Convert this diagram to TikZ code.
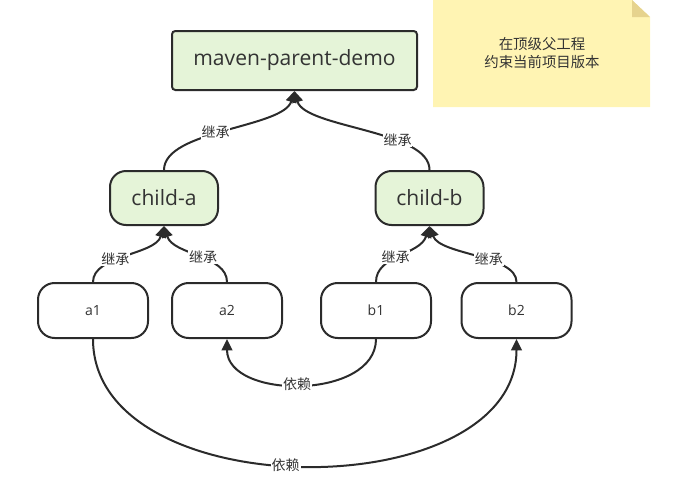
\documentclass[tikz,border=0pt]{standalone}
\usepackage{fontspec}
\setmainfont{Open Sans}
\newfontfamily\cjk{Noto Sans CJK SC}
\usetikzlibrary{arrows.meta}
\definecolor{strokec}{HTML}{2B2B2B}
\definecolor{textc}{HTML}{333333}
\definecolor{greenfill}{HTML}{E5F4D8}
\definecolor{notefill}{HTML}{FFF4B3}
\definecolor{notefold}{HTML}{E6D38E}
\tikzset{
  box/.style={draw=strokec, line width=1.5pt, text=textc, inner sep=0pt},
  parentbox/.style={box, fill=greenfill, rounded corners=2.5pt,
    minimum width={245*0.75pt}, minimum height={59*0.75pt},
    font=\fontsize{15.8}{18}\selectfont},
  childbox/.style={box, fill=greenfill, rounded corners=12pt,
    minimum width={108*0.75pt}, minimum height={54*0.75pt},
    font=\fontsize{15.8}{18}\selectfont},
  leafbox/.style={box, fill=white, rounded corners=12.5pt,
    minimum width={110*0.75pt}, minimum height={55*0.75pt},
    font=\fontsize{10.5}{12}\selectfont},
  conn/.style={draw=strokec, line width=1.5pt,
    -{Triangle[length=8.5pt,width=8pt]}},
  elabel/.style={fill=white, inner sep=0.6pt, text=textc,
    font=\cjk\fontsize{10.5}{12}\selectfont},
  notetext/.style={text=textc, align=center,
    font=\cjk\fontsize{10.8}{13}\selectfont}
}
\begin{document}
\begin{tikzpicture}[x=0.75pt,y=-0.75pt]
\useasboundingbox (0,0) rectangle (684,489);

% note
\fill[notefill] (433,0) -- (632,0) -- (650,17) -- (650,107) -- (433,107) -- cycle;
\fill[notefold] (632,0) -- (650,17) -- (632,17) -- cycle;
\node[notetext] (note) at (542,53) {在顶级父工程\\约束当前项目版本};

% nodes
\node[parentbox] (parent) at (294.5,60.5) {maven-parent-demo};
\node[childbox] (childa) at (164,198) {child-a};
\node[childbox] (childb) at (429.5,198) {child-b};
\node[leafbox] (a1) at (93,310.5) {a1};
\node[leafbox] (a2) at (227,310.5) {a2};
\node[leafbox] (b1) at (376,310.5) {b1};
\node[leafbox] (b2) at (516.5,310.5) {b2};

% inheritance to parent
\draw[conn] (childa.north) .. controls (164,130) and (283,128) .. (parent.south)
  node[elabel, pos=0.45] {继承};
\draw[conn] (childb.north) .. controls (430,130) and (305,128) .. (parent.south)
  node[elabel, pos=0.33] {继承};

% inheritance to child-a / child-b
\draw[conn] (a1.north) .. controls (93,255) and (155,255) .. (childa.south)
  node[elabel, pos=0.4] {继承};
\draw[conn] (a2.north) .. controls (227,255) and (173,255) .. (childa.south)
  node[elabel, pos=0.45] {继承};
\draw[conn] (b1.north) .. controls (376,255) and (420,255) .. (childb.south)
  node[elabel, pos=0.45] {继承};
\draw[conn] (b2.north) .. controls (516.5,255) and (440,255) .. (childb.south)
  node[elabel, pos=0.4] {继承};

% dependencies
\draw[conn] (b1.south) .. controls (376,400) and (227,400) .. (a2.south)
  node[elabel, pos=0.52] {依赖};
\draw[conn] (a1.south) .. controls (93,508) and (516.5,508) .. (b2.south)
  node[elabel, pos=0.47] {依赖};
\end{tikzpicture}
\end{document}
